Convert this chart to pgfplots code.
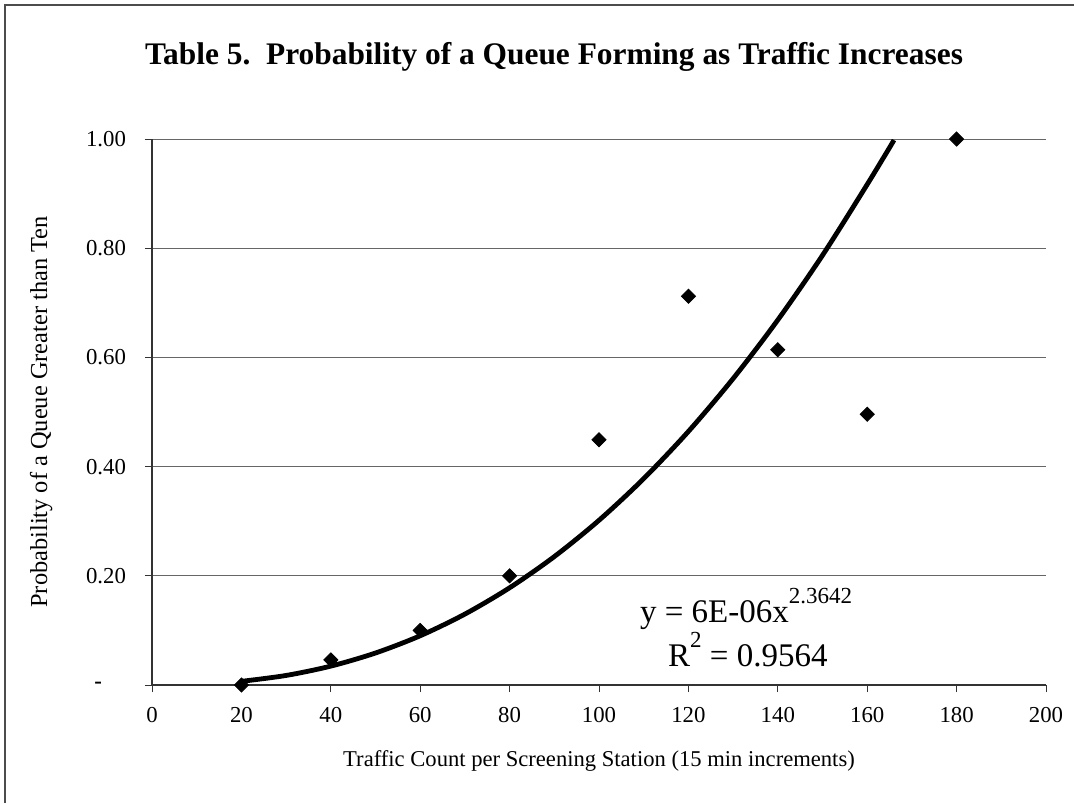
\documentclass[border=0pt]{standalone}
\usepackage{pgfplots}
\pgfplotsset{compat=1.18}
\usepackage{fontspec}
\setmainfont{Liberation Serif}
\begin{document}
\begin{tikzpicture}
\useasboundingbox (0,0) rectangle (537pt,-401.5pt);
\draw[black!70, line width=0.6pt] (2.5pt,-401.5pt) -- (2.5pt,-2.5pt) -- (537pt,-2.5pt);
\node[font=\fontsize{15.7}{19}\selectfont\bfseries, anchor=base] at (277pt,-32pt) {Table 5.\ \ Probability of a Queue Forming as Traffic Increases};
\begin{axis}[
  at={(76pt,-342.5pt)}, anchor=origin,
  scale only axis, width=447pt, height=273pt,
  xmin=0, xmax=200, ymin=0, ymax=1,
  xtick={0,20,...,200},
  ytick={0,0.2,0.4,0.6,0.8,1.0},
  yticklabels={{\textbf{-}\kern12pt},0.20,0.40,0.60,0.80,1.00},
  axis x line*=bottom, axis y line*=left,
  x axis line style={black!80, line width=0.6pt, -},
  y axis line style={black!80, line width=0.6pt, -},
  tick align=outside, major tick length=3.5pt,
  tick style={black!80, line width=0.5pt},
  ymajorgrids, grid style={black!60, line width=0.5pt},
  /pgf/number format/assume math mode=true,
  ticklabel style={font=\fontsize{11.4}{13}\selectfont},
  xticklabel style={yshift=-4pt},
  yticklabel style={xshift=-6pt},
  xlabel={Traffic Count per Screening Station (15 min increments)},
  ylabel={Probability of a Queue Greater than Ten},
  xlabel style={font=\fontsize{11.3}{13}\selectfont, yshift=-7pt},
  ylabel style={font=\fontsize{12.2}{14}\selectfont, yshift=10pt},
  clip=true,
]
\addplot[black, line width=2.4pt, smooth] coordinates {
(20,0.00672) (30,0.01751) (40,0.03458) (50,0.05863) (60,0.0902) (70,0.1299)
(80,0.1781) (90,0.2352) (100,0.3017) (110,0.3780) (120,0.4644) (130,0.5612)
(140,0.6686) (150,0.787) (160,0.9168) (166,0.998)
};
\addplot[only marks, mark=square*, mark size=2.5pt, mark options={rotate=45, fill=black, draw=black}] coordinates {
(20,0.0) (40,0.046) (60,0.10) (80,0.20) (100,0.449) (120,0.712) (140,0.614) (160,0.496) (180,1.0)
};
\node[anchor=base, font=\fontsize{16.5}{19}\selectfont] at (axis cs:132.9,0.1136) {y = 6E-06x\raisebox{0.6em}{\fontsize{11.5}{13}\selectfont 2.3642}};
\node[anchor=base, font=\fontsize{16.5}{19}\selectfont] at (axis cs:133.3,0.033) {R\raisebox{0.6em}{\fontsize{11.5}{13}\selectfont 2} = 0.9564};
\end{axis}
\end{tikzpicture}
\end{document}
